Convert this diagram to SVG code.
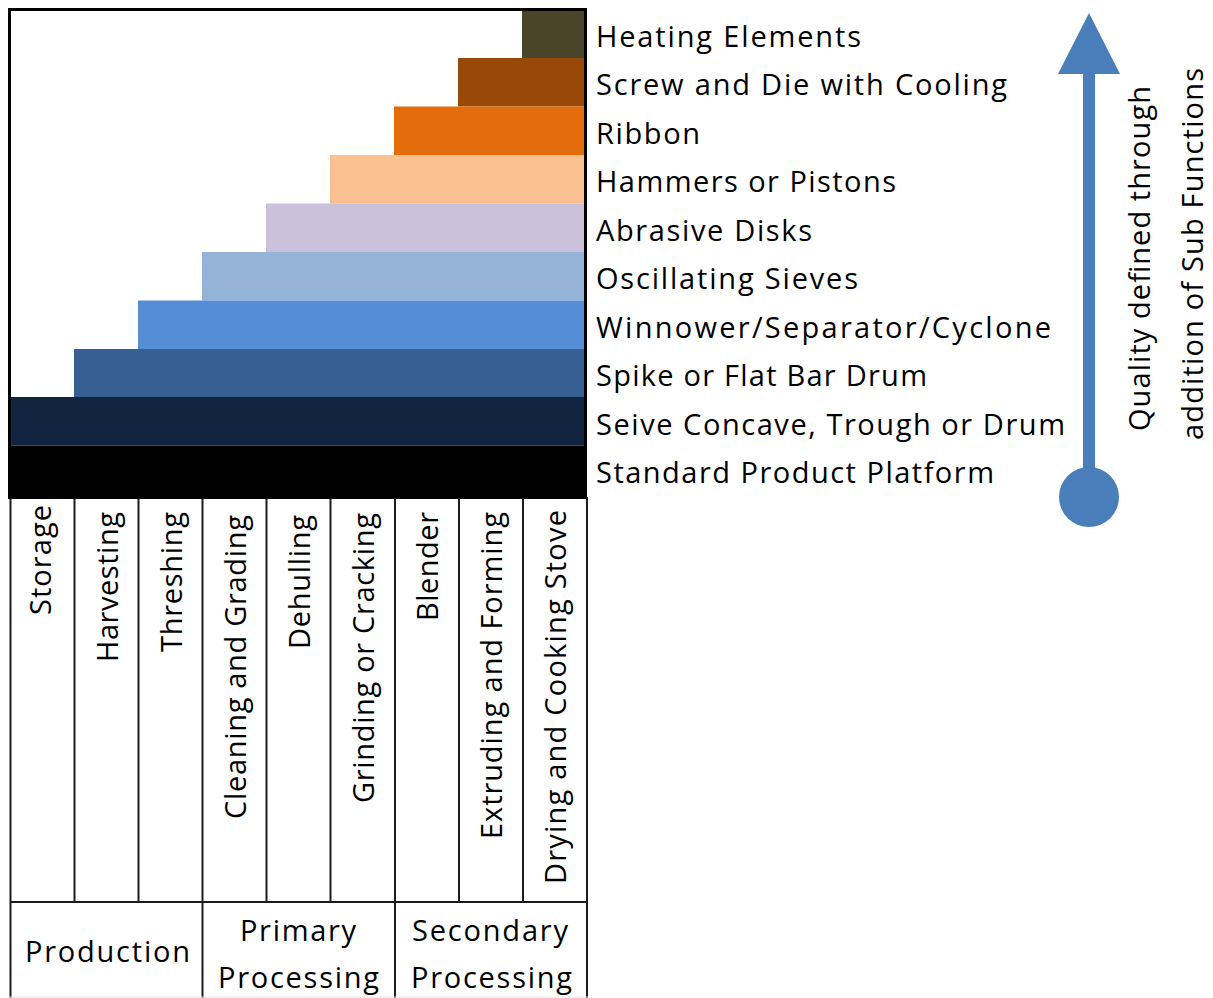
<svg xmlns="http://www.w3.org/2000/svg" width="1213" height="998" viewBox="0 0 1213 998">
<defs>
<style>
text{font-family:"Open Sans","Liberation Sans",sans-serif;font-size:29px;fill:#000;}
.grid{stroke:#1b1b1b;stroke-width:2;fill:none;}
</style>
</defs>
<rect x="0" y="0" width="1213" height="998" fill="#fff"/>
<g id="bars">
<g id="heating"><rect x="522" y="9.5" width="63" height="48.5" fill="#4a442a"/><text x="596" y="46.5" textLength="265" lengthAdjust="spacing">Heating Elements</text></g>
<g id="screw"><rect x="458" y="58" width="127" height="48.5" fill="#984807"/><text x="596" y="95" textLength="411" lengthAdjust="spacing">Screw and Die with Cooling</text></g>
<g id="ribbon"><rect x="394" y="106.5" width="191" height="48.5" fill="#e46c0a"/><text x="596" y="143.5" textLength="104" lengthAdjust="spacing">Ribbon</text></g>
<g id="hammers"><rect x="330" y="155" width="255" height="48.5" fill="#fac090"/><text x="596" y="192" textLength="300" lengthAdjust="spacing">Hammers or Pistons</text></g>
<g id="abrasive"><rect x="266" y="203.5" width="319" height="48.5" fill="#ccc1da"/><text x="596" y="240.5" textLength="216" lengthAdjust="spacing">Abrasive Disks</text></g>
<g id="oscillating"><rect x="202" y="252" width="383" height="48.5" fill="#95b3d7"/><text x="596" y="289" textLength="262" lengthAdjust="spacing">Oscillating Sieves</text></g>
<g id="winnower"><rect x="138" y="300.5" width="447" height="48.5" fill="#558ed5"/><text x="596" y="337.5" textLength="455" lengthAdjust="spacing">Winnower/Separator/Cyclone</text></g>
<g id="spike"><rect x="74" y="349" width="511" height="48" fill="#376092"/><text x="596" y="386" textLength="331" lengthAdjust="spacing">Spike or Flat Bar Drum</text></g>
<g id="seive"><rect x="10" y="397" width="575" height="48.5" fill="#10243f"/><text x="596" y="434.5" textLength="469" lengthAdjust="spacing">Seive Concave, Trough or Drum</text></g>
<g id="standard"><rect x="8" y="445.5" width="579" height="53" fill="#000"/><text x="596" y="483" textLength="398" lengthAdjust="spacing">Standard Product Platform</text></g>
</g>
<rect x="9.5" y="9.5" width="576" height="488" fill="none" stroke="#000" stroke-width="3"/>
<g id="table">
<path class="grid" d="M10.5 498V998M74.5 498V902M138.5 498V902M202.5 498V998M266.5 498V902M330.5 498V902M395 498V998M459 498V902M523 498V902M587 497V998M9.5 902H588"/>
<line x1="9.5" y1="997" x2="588" y2="997" stroke="#e6e6e6" stroke-width="1"/>
</g>
<g id="columns">
<g id="col-storage"><text transform="translate(51,615) rotate(-90)" textLength="110" lengthAdjust="spacing">Storage</text></g>
<g id="col-harvesting"><text transform="translate(118,662) rotate(-90)" textLength="150" lengthAdjust="spacing">Harvesting</text></g>
<g id="col-threshing"><text transform="translate(182,652) rotate(-90)" textLength="140" lengthAdjust="spacing">Threshing</text></g>
<g id="col-cleaning"><text transform="translate(246,819) rotate(-90)" textLength="304" lengthAdjust="spacing">Cleaning and Grading</text></g>
<g id="col-dehulling"><text transform="translate(310,649) rotate(-90)" textLength="134" lengthAdjust="spacing">Dehulling</text></g>
<g id="col-grinding"><text transform="translate(374,803) rotate(-90)" textLength="290" lengthAdjust="spacing">Grinding or Cracking</text></g>
<g id="col-blender"><text transform="translate(438,621) rotate(-90)" textLength="109" lengthAdjust="spacing">Blender</text></g>
<g id="col-extruding"><text transform="translate(502,839) rotate(-90)" textLength="327" lengthAdjust="spacing">Extruding and Forming</text></g>
<g id="col-drying"><text transform="translate(566,884) rotate(-90)" textLength="374" lengthAdjust="spacing">Drying and Cooking Stove</text></g>
</g>
<g id="groups">
<g id="grp-production"><text x="25" y="962" textLength="165" lengthAdjust="spacing">Production</text></g>
<g id="grp-primary"><text x="240" y="941" textLength="116" lengthAdjust="spacing">Primary</text><text x="218" y="988" textLength="161" lengthAdjust="spacing">Processing</text></g>
<g id="grp-secondary"><text x="412" y="941" textLength="156" lengthAdjust="spacing">Secondary</text><text x="411" y="988" textLength="161" lengthAdjust="spacing">Processing</text></g>
</g>
<g id="connectors">
<rect x="1083" y="70" width="12" height="430" fill="#4a7ebb"/>
<polygon points="1089,13 1120,74 1058,74" fill="#4a7ebb"/>
<circle cx="1089" cy="497" r="30" fill="#4a7ebb"/>
</g>
<g id="quality-label">
<text transform="translate(1150,431) rotate(-90)" textLength="345" lengthAdjust="spacing">Quality defined through</text>
<text transform="translate(1203,440) rotate(-90)" textLength="372" lengthAdjust="spacing">addition of Sub Functions</text>
</g>
</svg>
